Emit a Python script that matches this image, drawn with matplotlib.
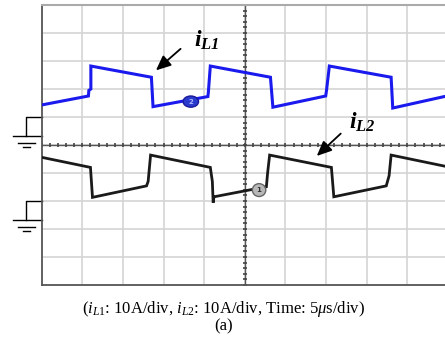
import matplotlib.pyplot as plt
import matplotlib.patches as patches
import numpy as np

plt.rcParams['mathtext.fontset'] = 'custom'
plt.rcParams['mathtext.rm'] = 'Liberation Serif'
plt.rcParams['mathtext.it'] = 'Liberation Serif:italic'
plt.rcParams['mathtext.bf'] = 'Liberation Serif:bold'
plt.rcParams['mathtext.bfit'] = 'Liberation Serif:italic:bold'

# scope traces, x in time divisions, y in vertical divisions
il1_t = [0.0, 1.15, 1.16, 1.21, 1.21, 2.70, 2.74, 4.09, 4.10, 4.15, 5.63, 5.69,
         6.99, 7.01, 7.08, 8.60, 8.64, 10.0]
il1_v = [1.43, 1.75, 1.95, 2.00, 2.82, 2.42, 1.37, 1.73, 1.85, 2.82, 2.42, 1.35,
         1.75, 1.95, 2.82, 2.42, 1.32, 1.76]
il2_t = [0.0, 1.20, 1.25, 2.58, 2.62, 2.68, 4.15, 4.20, 4.22, 4.24, 5.53, 5.56,
         5.61, 7.13, 7.19, 8.48, 8.55, 8.60, 10.0]
il2_v = [-0.44, -0.80, -1.87, -1.46, -1.30, -0.36, -0.80, -1.30, -2.06, -1.85,
         -1.49, -1.00, -0.36, -0.80, -1.85, -1.46, -1.10, -0.36, -0.78]
ground_levels = [1.0, -2.0]
marker_pos = {'2': (3.67, 1.55), '1': (5.35, -1.61)}

fig = plt.figure(figsize=(4.45, 3.43), dpi=100)
ax = fig.add_axes([41.7 / 445, 58 / 343, 406.3 / 445, 280 / 343])
ax.set_xlim(0, 10)
ax.set_ylim(-5, 5)
ax.set_xticks([])
ax.set_yticks([])

# graticule
for xv in range(1, 10):
    ax.axvline(xv, color='#d4d4d4', lw=1.2, zorder=0)
for yv in range(-4, 5):
    ax.axhline(yv, color='#d4d4d4', lw=1.2, zorder=0)
ax.axvline(5, color='#555555', lw=1.0, zorder=1)
ax.axhline(0, color='#555555', lw=1.0, zorder=1)
tk = np.arange(0, 10.01, 0.2)
ax.plot(tk, np.zeros_like(tk), ls='none', marker='|', ms=3, mew=1.2, color='#444444', zorder=1)
tk = np.arange(-5, 5.01, 0.2)
ax.plot(np.full_like(tk, 5), tk, ls='none', marker='_', ms=3, mew=1.2, color='#444444', zorder=1)
for side in ['left', 'bottom']:
    ax.spines[side].set_color('#555555')
    ax.spines[side].set_linewidth(1.3)
ax.spines['top'].set_color('#aaaaaa')
ax.spines['top'].set_linewidth(1.5)
ax.spines['right'].set_visible(False)

# traces
ax.plot(il1_t, il1_v, color='#1a1aee', lw=2.2, solid_joinstyle='miter', zorder=3)
ax.plot(il2_t, il2_v, color='#1a1a1a', lw=2.0, solid_joinstyle='miter', zorder=3)

# channel markers
x2, y2 = marker_pos['2']
ax.add_patch(patches.Ellipse((x2, y2), 0.38, 0.40, facecolor='#2a3acc', edgecolor='#1a1a9a', lw=1, zorder=4))
ax.text(x2, y2, '2', color='#b0b8ff', fontsize=5, ha='center', va='center', fontweight='bold', zorder=5)
x1, y1 = marker_pos['1']
ax.add_patch(patches.Ellipse((x1, y1), 0.33, 0.46, facecolor='#b8b8b8', edgecolor='#666666', lw=1, zorder=4))
ax.text(x1, y1, '1', color='#333333', fontsize=5, ha='center', va='center', fontweight='bold', zorder=5)

# ground markers
for g in ground_levels:
    kw = dict(color='black', lw=1.0, clip_on=False)
    ax.plot([0, -0.386, -0.386], [g, g, g - 0.68], **kw)
    ax.plot([-0.71, 0], [g - 0.68, g - 0.68], **kw)
    ax.plot([-0.58, -0.17], [g - 0.92, g - 0.92], **kw)
    ax.plot([-0.46, -0.29], [g - 1.08, g - 1.08], **kw)

# labels with arrows
akw = dict(arrowstyle='-|>,head_length=0.9,head_width=0.4', color='black', lw=1.3)
ax.annotate('', xy=(2.76, 2.60), xytext=(3.47, 3.5), arrowprops=akw, zorder=6)
ax.text(4.05, 3.75, r'$\mathbfit{i}_{\mathbfit{L1}}$', fontsize=17, ha='center', va='center')
ax.annotate('', xy=(6.72, -0.46), xytext=(7.41, 0.475), arrowprops=akw, zorder=6)
ax.text(7.9, 0.82, r'$\mathbfit{i}_{\mathbfit{L2}}$', fontsize=17, ha='center', va='center')

caption = r'($i_{L1}$: 10A/div, $i_{L2}$: 10A/div, Time: 5$\mathit{\mu}$s/div)' + '\n(a)'
fig.text(224 / 445, 1 - 317 / 343, caption, fontsize=12, ha='center', va='center',
         multialignment='center', linespacing=0.95, family='Liberation Serif')

fig.savefig('out.png', dpi=100)
